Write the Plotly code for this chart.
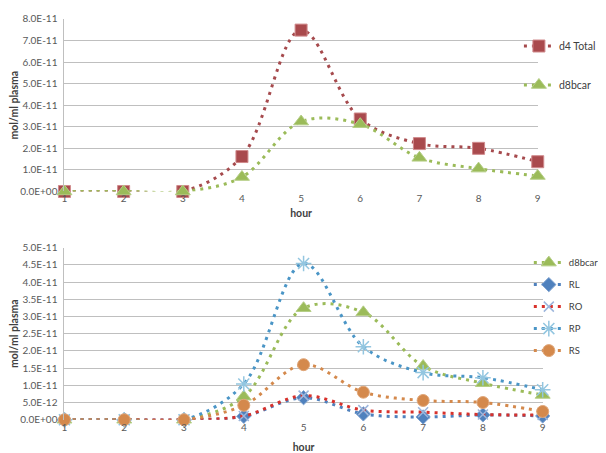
import plotly.graph_objects as go

hours = [1, 2, 3, 4, 5, 6, 7, 8, 9]

# top chart
d4_total = [0, 0, 0, 1.62e-11, 7.48e-11, 3.36e-11, 2.22e-11, 2.0e-11, 1.38e-11]
d8bcar = [0, 0, 0, 0.67e-11, 3.24e-11, 3.12e-11, 1.56e-11, 1.06e-11, 0.72e-11]

# bottom chart
RL = [0, 0, 0, 0.10e-11, 0.64e-11, 0.17e-11, 0.08e-11, 0.14e-11, 0.11e-11]
RO = [0, 0, 0, 0.11e-11, 0.70e-11, 0.28e-11, 0.22e-11, 0.15e-11, 0.14e-11]
RP = [0, 0, 0, 1.04e-11, 4.54e-11, 2.12e-11, 1.37e-11, 1.22e-11, 0.87e-11]
RS = [0, 0, 0, 0.42e-11, 1.60e-11, 0.80e-11, 0.56e-11, 0.50e-11, 0.24e-11]

top_tickvals = [0, 1e-11, 2e-11, 3e-11, 4e-11, 5e-11, 6e-11, 7e-11, 8e-11]
top_ticktext = ["0.0E+00", "1.0E-11", "2.0E-11", "3.0E-11", "4.0E-11",
                "5.0E-11", "6.0E-11", "7.0E-11", "8.0E-11"]
bot_tickvals = [0, 0.5e-11, 1e-11, 1.5e-11, 2e-11, 2.5e-11, 3e-11, 3.5e-11,
                4e-11, 4.5e-11, 5e-11]
bot_ticktext = ["0.0E+00", "5.0E-12", "1.0E-11", "1.5E-11", "2.0E-11", "2.5E-11",
                "3.0E-11", "3.5E-11", "4.0E-11", "4.5E-11", "5.0E-11"]

DASH = "3px,5px"
FONT = "Lato, 'Liberation Sans', sans-serif"
TICKFONT = dict(family=FONT, size=10, color="#595959")
TITLEFONT = dict(family=FONT, size=10.5, color="#404040")
NOTICK = "rgba(0,0,0,0)"

fig = go.Figure()


def add(name, y, color, symbol, size, mcolor, mline, xa, ya, legend, lw=3):
    fig.add_trace(go.Scatter(
        x=hours, y=y, name=name, mode="lines+markers",
        line=dict(color=color, width=lw, dash=DASH, shape="spline", smoothing=1),
        marker=dict(symbol=symbol, size=size, color=mcolor,
                    line=dict(color=mline, width=1.5 if ("open" in symbol or "thin" in symbol) else 1)),
        xaxis=xa, yaxis=ya, legend=legend, legendgroup=name + legend,
        cliponaxis=False,
    ))


add("d4 Total", d4_total, "#A64A4D", "square", 12, "#A94A4D", "#D08A8C", "x", "y", "legend")
add("d8bcar", d8bcar, "#9BBB59", "triangle-up", 13, "#9BBB59", "#B5CE86", "x", "y", "legend")

add("d8bcar", d8bcar, "#9BBB59", "triangle-up", 13, "#9BBB59", "#B5CE86", "x2", "y2", "legend2")
add("RL", RL, "#4F81BD", "diamond", 11, "#4F81BD", "#7FA3D0", "x2", "y2", "legend2")
add("RO", RO, "#D8312B", "x-thin-open", 10, "#9DB6DC", "#9DB6DC", "x2", "y2", "legend2")
add("RP", RP, "#4A95C6", "asterisk-open", 13, "#93C6E0", "#93C6E0", "x2", "y2", "legend2")
add("RS", RS, "#D4894C", "circle", 12, "#D4894C", "#E0A77A", "x2", "y2", "legend2")

yaxis_common = dict(showgrid=True, gridcolor="#BFBFBF", gridwidth=1, zeroline=False,
                    showline=True, linecolor="#BFBFBF", linewidth=1,
                    ticks="outside", ticklen=4, tickcolor=NOTICK, tickfont=TICKFONT)
xaxis_common = dict(range=[1, 9], tickvals=hours, showgrid=False, showline=False,
                    zeroline=False, ticks="", tickfont=TICKFONT)

fig.update_layout(
    width=606, height=453,
    margin=dict(l=0, r=0, t=0, b=0),
    paper_bgcolor="white", plot_bgcolor="white",
    font=dict(family=FONT, size=11, color="#404040"),
    xaxis=dict(domain=[54 / 606, 532 / 606], anchor="y",
               title=dict(text="<b>hour</b>", font=TITLEFONT, standoff=6),
               **xaxis_common),
    yaxis=dict(domain=[1 - 181.7 / 453, 1 - 4 / 453], range=[0, 8e-11], anchor="x",
               tickvals=top_tickvals, ticktext=top_ticktext,
               title=dict(text="<b>mol/ml plasma</b>", font=TITLEFONT, standoff=4),
               **yaxis_common),
    xaxis2=dict(domain=[54 / 606, 537 / 606], anchor="y2",
                title=dict(text="<b>hour</b>", font=TITLEFONT, standoff=11),
                **xaxis_common),
    yaxis2=dict(domain=[1 - 416.7 / 453, 1 - 239.5 / 453], range=[0, 5e-11], anchor="x2",
                tickvals=bot_tickvals, ticktext=bot_ticktext,
                title=dict(text="<b>mol/ml plasma</b>", font=TITLEFONT, standoff=4),
                **yaxis_common),
    legend=dict(x=513 / 606, xanchor="left", y=1 - 17 / 453, yanchor="top",
                bgcolor="rgba(0,0,0,0)", tracegroupgap=20,
                font=dict(family=FONT, size=10.5, color="#404040")),
    legend2=dict(x=523 / 606, xanchor="left", y=1 - 240 / 453, yanchor="top",
                 bgcolor="rgba(0,0,0,0)", tracegroupgap=3,
                 font=dict(family=FONT, size=9.5, color="#404040")),
)

fig.write_html("out.html")
